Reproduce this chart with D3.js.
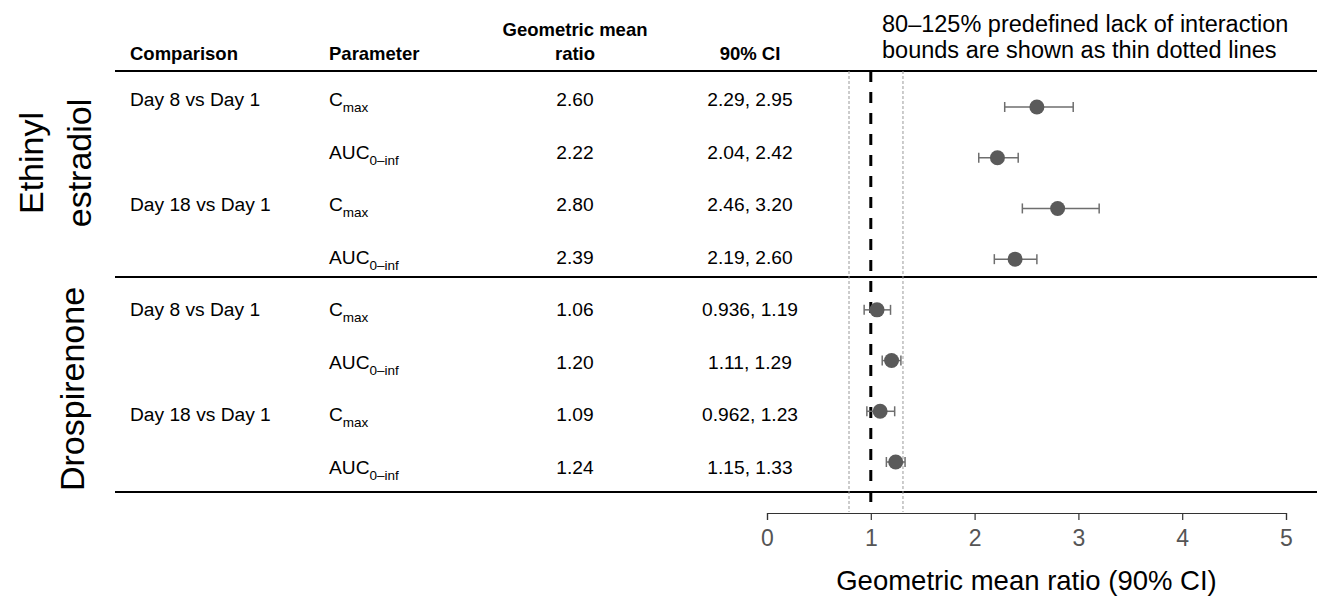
<!DOCTYPE html>
<html>
<head>
<meta charset="utf-8">
<script src="https://cdn.jsdelivr.net/npm/d3@7"></script>
<style>
  html, body { margin: 0; padding: 0; background: #fff; }
  svg { display: block; font-family: "Liberation Sans", Arial, sans-serif; }
</style>
</head>
<body>
<svg id="chart" width="1317" height="596"></svg>
<script>
// ---- data ----
const groups = ["Ethinyl estradiol", "Drospirenone"];
const comparisons = ["Day 8 vs Day 1", "", "Day 18 vs Day 1", "", "Day 8 vs Day 1", "", "Day 18 vs Day 1", ""];
const parameters = ["max", "0–inf", "max", "0–inf", "max", "0–inf", "max", "0–inf"];
const paramBase = ["C", "AUC", "C", "AUC", "C", "AUC", "C", "AUC"];
const gmr = [2.60, 2.22, 2.80, 2.39, 1.06, 1.20, 1.09, 1.24];
const gmrLabels = ["2.60", "2.22", "2.80", "2.39", "1.06", "1.20", "1.09", "1.24"];
const ciLow = [2.29, 2.04, 2.46, 2.19, 0.936, 1.11, 0.962, 1.15];
const ciHigh = [2.95, 2.42, 3.20, 2.60, 1.19, 1.29, 1.23, 1.33];
const ciLabels = ["2.29, 2.95", "2.04, 2.42", "2.46, 3.20", "2.19, 2.60", "0.936, 1.19", "1.11, 1.29", "0.962, 1.23", "1.15, 1.33"];
const xTicks = [0, 1, 2, 3, 4, 5];
const refLine = 1;
const bounds = [0.79, 1.31];

// ---- layout ----
const svg = d3.select("#chart");
const x = d3.scaleLinear().domain([0, 5]).range([767, 1286]);
const idx = d3.range(gmr.length);
const yPt = d3.scalePoint().domain(idx).range([107, 462]);
const yTxt = d3.scalePoint().domain(idx).range([99, 467]);
const col = { comp: 130, param: 329, gmr: 575, ci: 750 };
const lineTop = 71, lineBottom = 512;

// horizontal rules
[71, 277, 492].forEach(yy => {
  svg.append("line").attr("x1", 115).attr("x2", 1317).attr("y1", yy).attr("y2", yy)
    .attr("stroke", "#000").attr("stroke-width", 2);
});

// header
const hdr = svg.append("g").attr("font-size", 18.5).attr("font-weight", "bold").attr("fill", "#000");
hdr.append("text").attr("x", col.comp).attr("y", 60).text("Comparison");
hdr.append("text").attr("x", col.param).attr("y", 60).text("Parameter");
hdr.append("text").attr("x", col.gmr).attr("y", 36).attr("text-anchor", "middle").text("Geometric mean");
hdr.append("text").attr("x", col.gmr).attr("y", 60).attr("text-anchor", "middle").text("ratio");
hdr.append("text").attr("x", col.ci).attr("y", 60).attr("text-anchor", "middle").text("90% CI");

const note = svg.append("g").attr("font-size", 23.5).attr("fill", "#000");
note.append("text").attr("x", 882).attr("y", 32).text("80–125% predefined lack of interaction");
note.append("text").attr("x", 882).attr("y", 58).text("bounds are shown as thin dotted lines");

// group labels (rotated)
const gl = svg.append("g").attr("font-size", 34).attr("fill", "#000").attr("text-anchor", "middle");
gl.append("text").attr("transform", "translate(43,163) rotate(-90)").text("Ethinyl");
gl.append("text").attr("transform", "translate(91,163) rotate(-90)").text("estradiol");
gl.append("text").attr("transform", "translate(84,389) rotate(-90)").text(groups[1]);

// body text
const body = svg.append("g").attr("font-size", 19.2).attr("fill", "#000");
idx.forEach(i => {
  const yy = yTxt(i) + 7;
  if (comparisons[i]) body.append("text").attr("x", col.comp).attr("y", yy).text(comparisons[i]);
  const t = body.append("text").attr("x", col.param).attr("y", yy);
  t.append("tspan").text(paramBase[i]);
  t.append("tspan").attr("font-size", 13.5).attr("dy", 6).text(parameters[i]);
  body.append("text").attr("x", col.gmr).attr("y", yy).attr("text-anchor", "middle").text(gmrLabels[i]);
  body.append("text").attr("x", col.ci).attr("y", yy).attr("text-anchor", "middle").text(ciLabels[i]);
});

// bounds + reference line
bounds.forEach(b => {
  svg.append("line").attr("x1", x(b)).attr("x2", x(b)).attr("y1", lineTop).attr("y2", lineBottom)
    .attr("stroke", "#999").attr("stroke-width", 1).attr("stroke-dasharray", "3,2");
});
svg.append("line").attr("x1", x(refLine)).attr("x2", x(refLine)).attr("y1", lineTop).attr("y2", lineBottom)
  .attr("stroke", "#000").attr("stroke-width", 3).attr("stroke-dasharray", "11,10");

// error bars and points
const pts = svg.append("g");
idx.forEach(i => {
  const yy = yPt(i);
  pts.append("line").attr("x1", x(ciLow[i])).attr("x2", x(ciHigh[i])).attr("y1", yy).attr("y2", yy)
    .attr("stroke", "#6e6e6e").attr("stroke-width", 1.5);
  [ciLow[i], ciHigh[i]].forEach(v => {
    pts.append("line").attr("x1", x(v)).attr("x2", x(v)).attr("y1", yy - 5).attr("y2", yy + 5)
      .attr("stroke", "#6e6e6e").attr("stroke-width", 1.5);
  });
  pts.append("circle").attr("cx", x(gmr[i])).attr("cy", yy).attr("r", 7.5).attr("fill", "#5a5a5a");
});

// x axis
const axis = svg.append("g").attr("transform", "translate(0,513)")
  .call(d3.axisBottom(x).tickValues(xTicks).tickFormat(d3.format("d")).tickSize(7).tickPadding(10));
axis.select(".domain").attr("stroke", "#333").attr("stroke-width", 1.2);
axis.selectAll(".tick line").attr("stroke", "#333").attr("stroke-width", 1.2);
axis.selectAll(".tick text").attr("font-size", 23).attr("fill", "#555")
  .attr("font-family", "Liberation Sans, Arial, sans-serif");

svg.append("text").attr("x", x(2.5)).attr("y", 590).attr("text-anchor", "middle")
  .attr("font-size", 27.5).attr("fill", "#000").text("Geometric mean ratio (90% CI)");
</script>
</body>
</html>
